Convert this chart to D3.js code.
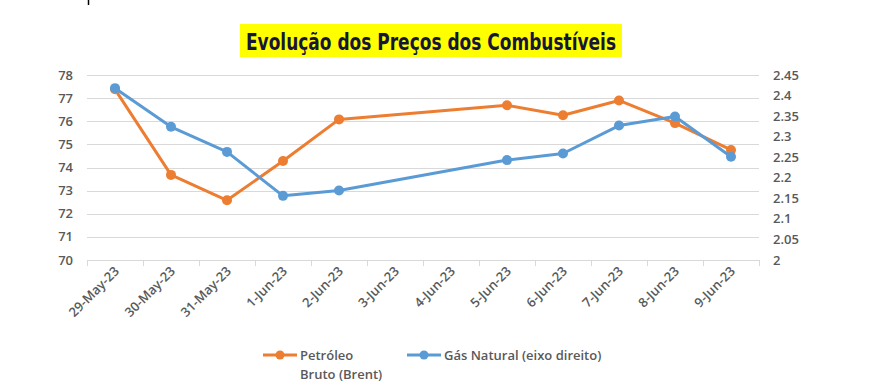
<!DOCTYPE html>
<html><head><meta charset="utf-8">
<script src="https://cdn.jsdelivr.net/npm/d3@7"></script>
<style>body{margin:0;background:#fff;} svg{display:block;}</style>
</head><body>
<svg id="c" width="875" height="390"></svg>
<script>
const dates = ["29-May-23","30-May-23","31-May-23","1-Jun-23","2-Jun-23","3-Jun-23","4-Jun-23","5-Jun-23","6-Jun-23","7-Jun-23","8-Jun-23","9-Jun-23"];
const brent = [77.38,73.68,72.58,74.28,76.08,null,null,76.69,76.26,76.9,75.92,74.76];
const gas   = [2.418,2.324,2.263,2.156,2.169,null,null,2.243,2.259,2.327,2.349,2.251];
const leftTicks = [70,71,72,73,74,75,76,77,78];
const rightTicks = [2,2.05,2.1,2.15,2.2,2.25,2.3,2.35,2.4,2.45];
const titleText = "Evolução dos Preços dos Combustíveis";
const seriesNames = ["Petróleo|Bruto (Brent)","Gás Natural (eixo direito)"];
const colors = ["#ED7D31","#5B9BD5"];

const svg = d3.select("#c");
const L = 87, R = 759, T = 75, B = 260;
const x = d3.scaleBand().domain(dates).range([L, R]).padding(0);
const yL = d3.scaleLinear().domain([70,78]).range([B,T]);
const yR = d3.scaleLinear().domain([2,2.45]).range([B,T]);
const font = "'Open Sans', sans-serif";
const txt = "#595959";
const fw = 600;

// small mark top-left
svg.append("line").attr("x1",88.5).attr("x2",88.5).attr("y1",0).attr("y2",5).attr("stroke","#000").attr("stroke-width",1.5);

// title
svg.append("rect").attr("x",240).attr("y",24).attr("width",382).attr("height",33).attr("fill","#FFFF00");
svg.append("text").attr("x",431).attr("y",49.5).attr("text-anchor","middle")
  .attr("font-family","'Liberation Sans Narrow','DejaVu Sans Condensed',sans-serif").attr("font-weight","bold")
  .attr("font-size",23).attr("fill","#16163a").attr("textLength",370).attr("lengthAdjust","spacingAndGlyphs")
  .text(titleText);

// gridlines
svg.append("g").selectAll("line").data(leftTicks).join("line")
  .attr("x1",L).attr("x2",R).attr("y1",d=>Math.round(yL(d))+0.5).attr("y2",d=>Math.round(yL(d))+0.5)
  .attr("stroke","#d9d9d9").attr("stroke-width",1);

// x axis ticks at band edges
const edges = dates.map(d=>x(d)).concat([R]);
svg.append("g").selectAll("line").data(edges).join("line")
  .attr("x1",d=>Math.round(d)+0.5).attr("x2",d=>Math.round(d)+0.5).attr("y1",B).attr("y2",B+6)
  .attr("stroke","#d9d9d9");

// left labels
svg.append("g").selectAll("text").data(leftTicks).join("text")
  .attr("x",73).attr("y",d=>yL(d)+4.5).attr("text-anchor","end")
  .attr("font-family",font).attr("font-weight",fw).attr("font-size",13).attr("fill",txt).text(d=>d);
// right labels
svg.append("g").selectAll("text").data(rightTicks).join("text")
  .attr("x",773).attr("y",d=>yR(d)+4.5).attr("text-anchor","start")
  .attr("font-family",font).attr("font-weight",fw).attr("font-size",13).attr("fill",txt).text(d=>d3.format("")(+d.toFixed(2)));
// x labels
svg.append("g").selectAll("text").data(dates).join("text")
  .attr("transform",d=>`translate(${x(d)+x.bandwidth()/2+5},${B+12}) rotate(-45)`)
  .attr("text-anchor","end").attr("font-family",font).attr("font-weight",fw).attr("font-size",13).attr("fill",txt).text(d=>d);

// series
const series = [
  {vals:brent, y:yL, color:colors[0]},
  {vals:gas, y:yR, color:colors[1]}
];
const cx = d=>x(d.date)+x.bandwidth()/2;
series.forEach(s=>{
  const pts = dates.map((d,i)=>({date:d,v:s.vals[i]})).filter(p=>p.v!=null);
  svg.append("path").datum(pts)
    .attr("d", d3.line().x(cx).y(p=>s.y(p.v)))
    .attr("fill","none").attr("stroke",s.color).attr("stroke-width",3).attr("stroke-linejoin","round");
  svg.append("g").selectAll("circle").data(pts).join("circle")
    .attr("cx",cx).attr("cy",p=>s.y(p.v)).attr("r",5).attr("fill",s.color);
});

// legend
const leg = [{x:263, color:colors[0], lines:seriesNames[0].split("|")},{x:407, color:colors[1], lines:seriesNames[1].split("|")}];
leg.forEach(l=>{
  const g = svg.append("g");
  g.append("line").attr("x1",l.x).attr("x2",l.x+34).attr("y1",355).attr("y2",355).attr("stroke",l.color).attr("stroke-width",3);
  g.append("circle").attr("cx",l.x+17).attr("cy",355).attr("r",4.5).attr("fill",l.color);
  l.lines.forEach((t,i)=>g.append("text").attr("x",l.x+37).attr("y",359.5+i*19)
    .attr("font-family",font).attr("font-weight",fw).attr("font-size",13).attr("fill",txt).text(t));
});
</script>
</body></html>
